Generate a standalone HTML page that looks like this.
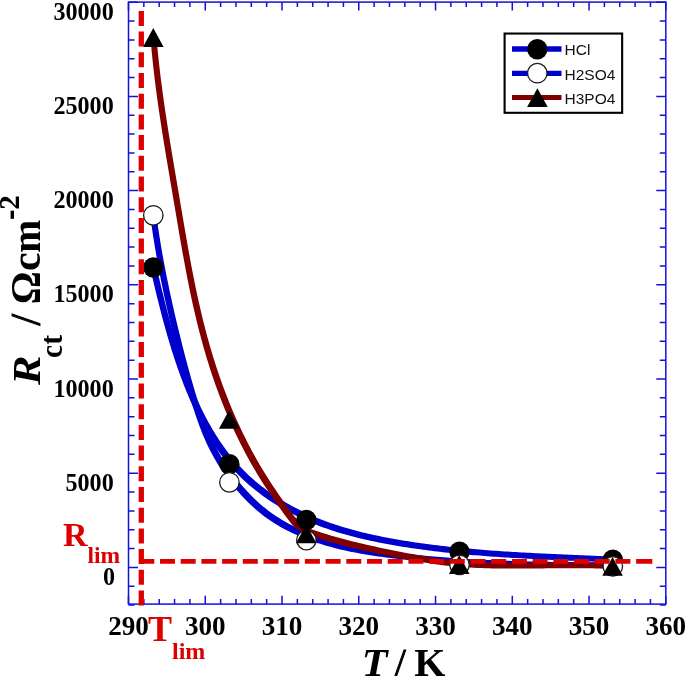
<!DOCTYPE html>
<html><head><meta charset="utf-8"><style>
html,body{margin:0;padding:0;background:#fff;}
body{width:685px;height:676px;position:relative;overflow:hidden;font-family:"Liberation Serif",serif;}
</style></head><body>
<svg width="685" height="676" viewBox="0 0 685 676" style="position:absolute;left:0;top:0;will-change:transform"><rect x="128.5" y="2.1" width="537.3" height="602.0" fill="none" stroke="#1212dd" stroke-width="1.5"/><path d="M128.50,604.1v-8.3M128.50,2.1v8.3M143.85,604.1v-5M143.85,2.1v5M159.20,604.1v-5M159.20,2.1v5M174.55,604.1v-5M174.55,2.1v5M189.91,604.1v-5M189.91,2.1v5M205.26,604.1v-8.3M205.26,2.1v8.3M220.61,604.1v-5M220.61,2.1v5M235.96,604.1v-5M235.96,2.1v5M251.31,604.1v-5M251.31,2.1v5M266.66,604.1v-5M266.66,2.1v5M282.01,604.1v-8.3M282.01,2.1v8.3M297.37,604.1v-5M297.37,2.1v5M312.72,604.1v-5M312.72,2.1v5M328.07,604.1v-5M328.07,2.1v5M343.42,604.1v-5M343.42,2.1v5M358.77,604.1v-8.3M358.77,2.1v8.3M374.12,604.1v-5M374.12,2.1v5M389.47,604.1v-5M389.47,2.1v5M404.83,604.1v-5M404.83,2.1v5M420.18,604.1v-5M420.18,2.1v5M435.53,604.1v-8.3M435.53,2.1v8.3M450.88,604.1v-5M450.88,2.1v5M466.23,604.1v-5M466.23,2.1v5M481.58,604.1v-5M481.58,2.1v5M496.93,604.1v-5M496.93,2.1v5M512.29,604.1v-8.3M512.29,2.1v8.3M527.64,604.1v-5M527.64,2.1v5M542.99,604.1v-5M542.99,2.1v5M558.34,604.1v-5M558.34,2.1v5M573.69,604.1v-5M573.69,2.1v5M589.04,604.1v-8.3M589.04,2.1v8.3M604.39,604.1v-5M604.39,2.1v5M619.75,604.1v-5M619.75,2.1v5M635.10,604.1v-5M635.10,2.1v5M650.45,604.1v-5M650.45,2.1v5M665.80,604.1v-8.3M665.80,2.1v8.3M128.5,605.08h6M665.8,605.08h-6M128.5,586.24h6M665.8,586.24h-6M128.5,567.40h9.5M665.8,567.40h-9.5M128.5,548.56h6M665.8,548.56h-6M128.5,529.72h6M665.8,529.72h-6M128.5,510.88h6M665.8,510.88h-6M128.5,492.04h6M665.8,492.04h-6M128.5,473.20h9.5M665.8,473.20h-9.5M128.5,454.36h6M665.8,454.36h-6M128.5,435.52h6M665.8,435.52h-6M128.5,416.68h6M665.8,416.68h-6M128.5,397.84h6M665.8,397.84h-6M128.5,379.00h9.5M665.8,379.00h-9.5M128.5,360.16h6M665.8,360.16h-6M128.5,341.32h6M665.8,341.32h-6M128.5,322.48h6M665.8,322.48h-6M128.5,303.64h6M665.8,303.64h-6M128.5,284.80h9.5M665.8,284.80h-9.5M128.5,265.96h6M665.8,265.96h-6M128.5,247.12h6M665.8,247.12h-6M128.5,228.28h6M665.8,228.28h-6M128.5,209.44h6M665.8,209.44h-6M128.5,190.60h9.5M665.8,190.60h-9.5M128.5,171.76h6M665.8,171.76h-6M128.5,152.92h6M665.8,152.92h-6M128.5,134.08h6M665.8,134.08h-6M128.5,115.24h6M665.8,115.24h-6M128.5,96.40h9.5M665.8,96.40h-9.5M128.5,77.56h6M665.8,77.56h-6M128.5,58.72h6M665.8,58.72h-6M128.5,39.88h6M665.8,39.88h-6M128.5,21.04h6M665.8,21.04h-6M128.5,2.20h9.5M665.8,2.20h-9.5" stroke="#1212dd" stroke-width="1.5" fill="none"/><path d="M151.93,266.21 L154.79,266.21 L155.43,268.94 L156.07,271.67 L156.71,274.39 L157.35,277.12 L158.00,279.84 L158.65,282.57 L159.30,285.29 L159.96,288.01 L160.62,290.74 L161.29,293.46 L161.96,296.18 L162.64,298.90 L163.32,301.62 L164.01,304.34 L164.71,307.05 L165.41,309.77 L166.13,312.48 L166.84,315.20 L167.57,317.91 L168.31,320.61 L169.05,323.32 L169.80,326.03 L170.57,328.73 L171.34,331.43 L172.12,334.13 L172.91,336.83 L173.72,339.52 L174.53,342.22 L175.36,344.91 L176.20,347.59 L177.05,350.28 L177.91,352.96 L178.79,355.64 L179.68,358.32 L180.58,360.99 L181.50,363.66 L182.43,366.33 L183.38,368.99 L184.34,371.65 L185.32,374.31 L186.31,376.97 L187.33,379.62 L188.35,382.26 L189.40,384.90 L190.46,387.53 L191.54,390.16 L192.64,392.78 L193.75,395.39 L194.89,397.99 L196.05,400.58 L197.22,403.16 L198.42,405.74 L199.64,408.29 L200.87,410.84 L202.13,413.38 L203.42,415.90 L204.72,418.40 L206.05,420.90 L207.40,423.37 L208.77,425.83 L210.17,428.28 L211.60,430.70 L213.04,433.11 L214.52,435.50 L216.02,437.87 L217.54,440.22 L219.09,442.55 L220.67,444.85 L222.28,447.14 L223.91,449.40 L225.57,451.64 L227.26,453.85 L228.98,456.04 L230.73,458.21 L232.51,460.35 L234.32,462.46 L236.16,464.54 L238.03,466.60 L239.93,468.63 L241.87,470.63 L243.83,472.60 L245.83,474.54 L247.85,476.45 L249.91,478.33 L251.99,480.18 L254.10,482.00 L256.24,483.80 L258.41,485.56 L260.60,487.30 L262.81,489.01 L265.06,490.68 L267.32,492.33 L269.61,493.95 L271.92,495.55 L274.25,497.11 L276.61,498.64 L278.99,500.15 L281.38,501.63 L283.80,503.08 L286.23,504.50 L288.69,505.89 L291.16,507.25 L293.64,508.59 L296.15,509.89 L298.67,511.17 L301.20,512.42 L303.75,513.65 L306.31,514.84 L308.89,516.01 L311.48,517.14 L314.08,518.25 L316.69,519.34 L319.31,520.39 L321.94,521.42 L324.58,522.41 L327.23,523.39 L329.89,524.33 L332.56,525.25 L335.23,526.15 L337.92,527.02 L340.61,527.87 L343.31,528.69 L346.02,529.50 L348.73,530.28 L351.45,531.04 L354.18,531.77 L356.91,532.49 L359.65,533.19 L362.39,533.87 L365.14,534.53 L367.89,535.17 L370.65,535.79 L373.41,536.40 L376.17,536.99 L378.94,537.56 L381.71,538.12 L384.49,538.67 L387.26,539.20 L390.04,539.71 L392.82,540.22 L395.60,540.71 L398.39,541.19 L401.17,541.66 L403.95,542.12 L406.74,542.56 L409.52,543.00 L412.31,543.43 L415.09,543.84 L417.88,544.25 L420.67,544.65 L423.46,545.03 L426.24,545.41 L429.03,545.78 L431.82,546.14 L434.61,546.49 L437.40,546.83 L440.19,547.17 L442.99,547.49 L445.78,547.81 L448.57,548.12 L451.36,548.42 L454.16,548.71 L456.95,549.00 L459.75,549.28 L462.54,549.55 L465.34,549.82 L468.13,550.07 L470.93,550.32 L473.73,550.57 L476.52,550.81 L479.32,551.04 L482.12,551.26 L484.92,551.48 L487.72,551.70 L490.52,551.91 L493.32,552.11 L496.12,552.31 L498.93,552.50 L501.73,552.69 L504.53,552.87 L507.33,553.05 L510.14,553.23 L512.94,553.40 L515.75,553.56 L518.55,553.72 L521.36,553.88 L524.17,554.04 L526.97,554.19 L529.78,554.34 L532.59,554.48 L535.40,554.63 L538.21,554.77 L541.02,554.90 L543.83,555.04 L546.64,555.17 L549.45,555.30 L552.26,555.43 L555.08,555.56 L557.89,555.68 L560.70,555.81 L563.52,555.93 L566.33,556.05 L569.15,556.17 L571.96,556.30 L574.78,556.42 L577.60,556.53 L580.41,556.65 L583.23,556.77 L586.05,556.89 L588.87,557.01 L591.69,557.13 L594.51,557.25 L597.33,557.37 L600.15,557.50 L602.97,557.62 L605.79,557.74 L608.62,557.87 L611.44,558.00 L614.26,558.13 L614.26,560.99 L611.40,560.99 L608.58,560.86 L605.76,560.73 L602.93,560.60 L600.11,560.48 L597.29,560.36 L594.47,560.23 L591.65,560.11 L588.83,559.99 L586.01,559.87 L583.19,559.75 L580.37,559.63 L577.55,559.51 L574.74,559.39 L571.92,559.28 L569.10,559.16 L566.29,559.03 L563.47,558.91 L560.66,558.79 L557.84,558.67 L555.03,558.54 L552.22,558.42 L549.40,558.29 L546.59,558.16 L543.78,558.03 L540.97,557.90 L538.16,557.76 L535.35,557.63 L532.54,557.49 L529.73,557.34 L526.92,557.20 L524.11,557.05 L521.31,556.90 L518.50,556.74 L515.69,556.58 L512.89,556.42 L510.08,556.26 L507.28,556.09 L504.47,555.91 L501.67,555.73 L498.87,555.55 L496.07,555.36 L493.26,555.17 L490.46,554.97 L487.66,554.77 L484.86,554.56 L482.06,554.34 L479.26,554.12 L476.46,553.90 L473.66,553.67 L470.87,553.43 L468.07,553.18 L465.27,552.93 L462.48,552.68 L459.68,552.41 L456.89,552.14 L454.09,551.86 L451.30,551.57 L448.50,551.28 L445.71,550.98 L442.92,550.67 L440.13,550.35 L437.33,550.03 L434.54,549.69 L431.75,549.35 L428.96,549.00 L426.17,548.64 L423.38,548.27 L420.60,547.89 L417.81,547.51 L415.02,547.11 L412.23,546.70 L409.45,546.29 L406.66,545.86 L403.88,545.42 L401.09,544.98 L398.31,544.52 L395.53,544.05 L392.74,543.57 L389.96,543.08 L387.18,542.57 L384.40,542.06 L381.63,541.53 L378.85,540.98 L376.08,540.42 L373.31,539.85 L370.55,539.26 L367.79,538.65 L365.03,538.03 L362.28,537.39 L359.53,536.73 L356.79,536.05 L354.05,535.35 L351.32,534.63 L348.59,533.90 L345.87,533.14 L343.16,532.36 L340.45,531.55 L337.75,530.73 L335.06,529.88 L332.37,529.01 L329.70,528.11 L327.03,527.19 L324.37,526.25 L321.72,525.27 L319.08,524.28 L316.45,523.25 L313.83,522.20 L311.22,521.11 L308.62,520.00 L306.03,518.87 L303.45,517.70 L300.89,516.51 L298.34,515.28 L295.81,514.03 L293.29,512.75 L290.78,511.45 L288.30,510.11 L285.83,508.75 L283.37,507.36 L280.94,505.94 L278.52,504.49 L276.13,503.01 L273.75,501.50 L271.39,499.97 L269.06,498.41 L266.75,496.81 L264.46,495.19 L262.20,493.54 L259.95,491.87 L257.74,490.16 L255.55,488.42 L253.38,486.66 L251.24,484.86 L249.13,483.04 L247.05,481.19 L244.99,479.31 L242.97,477.40 L240.97,475.46 L239.01,473.49 L237.07,471.49 L235.17,469.46 L233.30,467.40 L231.46,465.32 L229.65,463.21 L227.87,461.07 L226.12,458.90 L224.40,456.71 L222.71,454.50 L221.05,452.26 L219.42,450.00 L217.81,447.71 L216.23,445.41 L214.68,443.08 L213.16,440.73 L211.66,438.36 L210.18,435.97 L208.74,433.56 L207.31,431.14 L205.91,428.69 L204.54,426.23 L203.19,423.76 L201.86,421.26 L200.56,418.76 L199.27,416.24 L198.01,413.70 L196.78,411.15 L195.56,408.60 L194.36,406.02 L193.19,403.44 L192.03,400.85 L190.89,398.25 L189.78,395.64 L188.68,393.02 L187.60,390.39 L186.54,387.76 L185.49,385.12 L184.47,382.48 L183.45,379.83 L182.46,377.17 L181.48,374.51 L180.52,371.85 L179.57,369.19 L178.64,366.52 L177.72,363.85 L176.82,361.18 L175.93,358.50 L175.05,355.82 L174.19,353.14 L173.34,350.45 L172.50,347.77 L171.67,345.08 L170.86,342.38 L170.05,339.69 L169.26,336.99 L168.48,334.29 L167.71,331.59 L166.94,328.89 L166.19,326.18 L165.45,323.47 L164.71,320.77 L163.98,318.06 L163.27,315.34 L162.55,312.63 L161.85,309.91 L161.15,307.20 L160.46,304.48 L159.78,301.76 L159.10,299.04 L158.43,296.32 L157.76,293.60 L157.10,290.87 L156.44,288.15 L155.79,285.43 L155.14,282.70 L154.49,279.98 L153.85,277.25 L153.21,274.53 L152.57,271.80 L151.93,269.07Z" fill="#0000cc" stroke="#0000cc" stroke-width="2.95" stroke-linejoin="round"/><path d="M151.85,213.82 L154.71,213.82 L155.12,216.91 L155.55,220.01 L155.98,223.10 L156.43,226.18 L156.88,229.27 L157.35,232.35 L157.83,235.43 L158.31,238.50 L158.81,241.58 L159.32,244.65 L159.84,247.72 L160.36,250.78 L160.90,253.85 L161.45,256.91 L162.00,259.97 L162.56,263.03 L163.14,266.08 L163.72,269.14 L164.31,272.19 L164.91,275.24 L165.52,278.29 L166.13,281.33 L166.76,284.38 L167.39,287.42 L168.03,290.46 L168.68,293.50 L169.34,296.54 L170.00,299.58 L170.67,302.61 L171.35,305.65 L172.03,308.68 L172.72,311.71 L173.42,314.74 L174.13,317.77 L174.84,320.80 L175.56,323.83 L176.28,326.85 L177.01,329.88 L177.75,332.90 L178.49,335.93 L179.24,338.95 L179.99,341.97 L180.75,344.99 L181.52,348.02 L182.29,351.04 L183.06,354.05 L183.85,357.07 L184.64,360.09 L185.44,363.10 L186.24,366.11 L187.06,369.12 L187.88,372.13 L188.71,375.13 L189.55,378.13 L190.40,381.13 L191.27,384.13 L192.14,387.12 L193.02,390.10 L193.91,393.08 L194.82,396.06 L195.74,399.03 L196.67,402.00 L197.61,404.96 L198.57,407.91 L199.54,410.86 L200.54,413.80 L201.55,416.73 L202.59,419.65 L203.65,422.56 L204.75,425.46 L205.88,428.34 L207.04,431.20 L208.24,434.05 L209.47,436.89 L210.75,439.70 L212.07,442.50 L213.43,445.27 L214.83,448.03 L216.28,450.77 L217.77,453.49 L219.31,456.18 L220.89,458.86 L222.51,461.51 L224.18,464.14 L225.90,466.74 L227.65,469.32 L229.45,471.88 L231.28,474.41 L233.16,476.91 L235.07,479.39 L237.02,481.83 L239.01,484.25 L241.03,486.64 L243.09,489.00 L245.19,491.33 L247.32,493.62 L249.48,495.88 L251.69,498.10 L253.93,500.27 L256.20,502.41 L258.51,504.49 L260.86,506.53 L263.25,508.52 L265.68,510.45 L268.14,512.33 L270.64,514.16 L273.18,515.93 L275.75,517.65 L278.35,519.31 L280.99,520.93 L283.66,522.49 L286.36,524.00 L289.08,525.47 L291.83,526.89 L294.61,528.26 L297.41,529.58 L300.23,530.86 L303.07,532.10 L305.94,533.29 L308.82,534.44 L311.72,535.55 L314.63,536.62 L317.56,537.66 L320.50,538.65 L323.46,539.60 L326.42,540.52 L329.40,541.41 L332.39,542.26 L335.38,543.08 L338.39,543.86 L341.41,544.62 L344.44,545.34 L347.47,546.04 L350.51,546.71 L353.56,547.35 L356.62,547.96 L359.68,548.56 L362.75,549.12 L365.83,549.67 L368.91,550.19 L371.99,550.70 L375.08,551.18 L378.17,551.65 L381.27,552.10 L384.37,552.53 L387.47,552.95 L390.57,553.35 L393.67,553.74 L396.77,554.12 L399.88,554.49 L402.98,554.85 L406.09,555.20 L409.19,555.54 L412.29,555.87 L415.39,556.19 L418.50,556.50 L421.60,556.81 L424.70,557.11 L427.80,557.39 L430.90,557.67 L434.00,557.94 L437.10,558.21 L440.20,558.46 L443.30,558.71 L446.40,558.95 L449.50,559.18 L452.60,559.41 L455.70,559.62 L458.80,559.83 L461.90,560.04 L465.00,560.23 L468.10,560.42 L471.20,560.60 L474.30,560.78 L477.40,560.95 L480.50,561.11 L483.60,561.27 L486.70,561.42 L489.80,561.56 L492.90,561.70 L496.00,561.83 L499.10,561.96 L502.20,562.08 L505.30,562.20 L508.40,562.31 L511.51,562.41 L514.61,562.51 L517.71,562.61 L520.82,562.70 L523.92,562.78 L527.03,562.86 L530.13,562.94 L533.24,563.01 L536.34,563.08 L539.45,563.14 L542.56,563.20 L545.67,563.25 L548.78,563.30 L551.88,563.35 L555.00,563.40 L558.11,563.44 L561.22,563.47 L564.33,563.51 L567.44,563.54 L570.56,563.56 L573.67,563.59 L576.79,563.61 L579.91,563.63 L583.03,563.64 L586.14,563.66 L589.26,563.67 L592.39,563.68 L595.51,563.69 L598.63,563.69 L601.75,563.70 L604.88,563.70 L608.01,563.70 L611.13,563.69 L614.26,563.69 L614.26,566.55 L611.40,566.55 L608.27,566.55 L605.15,566.56 L602.02,566.56 L598.89,566.56 L595.77,566.55 L592.65,566.55 L589.53,566.54 L586.40,566.53 L583.28,566.52 L580.17,566.50 L577.05,566.49 L573.93,566.47 L570.81,566.45 L567.70,566.42 L564.58,566.40 L561.47,566.37 L558.36,566.33 L555.25,566.30 L552.14,566.26 L549.02,566.21 L545.92,566.16 L542.81,566.11 L539.70,566.06 L536.59,566.00 L533.48,565.94 L530.38,565.87 L527.27,565.80 L524.17,565.72 L521.06,565.64 L517.96,565.56 L514.85,565.47 L511.75,565.37 L508.65,565.27 L505.54,565.17 L502.44,565.06 L499.34,564.94 L496.24,564.82 L493.14,564.69 L490.04,564.56 L486.94,564.42 L483.84,564.28 L480.74,564.13 L477.64,563.97 L474.54,563.81 L471.44,563.64 L468.34,563.46 L465.24,563.28 L462.14,563.09 L459.04,562.90 L455.94,562.69 L452.84,562.48 L449.74,562.27 L446.64,562.04 L443.54,561.81 L440.44,561.57 L437.34,561.32 L434.24,561.07 L431.14,560.80 L428.04,560.53 L424.94,560.25 L421.84,559.97 L418.74,559.67 L415.64,559.36 L412.53,559.05 L409.43,558.73 L406.33,558.40 L403.23,558.06 L400.12,557.71 L397.02,557.35 L393.91,556.98 L390.81,556.60 L387.71,556.21 L384.61,555.81 L381.51,555.39 L378.41,554.96 L375.31,554.51 L372.22,554.04 L369.13,553.56 L366.05,553.05 L362.97,552.53 L359.89,551.98 L356.82,551.42 L353.76,550.82 L350.70,550.21 L347.65,549.57 L344.61,548.90 L341.58,548.20 L338.55,547.48 L335.53,546.72 L332.52,545.94 L329.53,545.12 L326.54,544.27 L323.56,543.38 L320.60,542.46 L317.64,541.51 L314.70,540.52 L311.77,539.48 L308.86,538.41 L305.96,537.30 L303.08,536.15 L300.21,534.96 L297.37,533.72 L294.55,532.44 L291.75,531.12 L288.97,529.75 L286.22,528.33 L283.50,526.86 L280.80,525.35 L278.13,523.79 L275.49,522.17 L272.89,520.51 L270.32,518.79 L267.78,517.02 L265.28,515.19 L262.82,513.31 L260.39,511.38 L258.00,509.39 L255.65,507.35 L253.34,505.27 L251.07,503.13 L248.83,500.96 L246.62,498.74 L244.46,496.48 L242.33,494.19 L240.23,491.86 L238.17,489.50 L236.15,487.11 L234.16,484.69 L232.21,482.25 L230.30,479.77 L228.42,477.27 L226.59,474.74 L224.79,472.18 L223.04,469.60 L221.32,467.00 L219.65,464.37 L218.03,461.72 L216.45,459.04 L214.91,456.35 L213.42,453.63 L211.97,450.89 L210.57,448.13 L209.21,445.36 L207.89,442.56 L206.61,439.75 L205.38,436.91 L204.18,434.06 L203.02,431.20 L201.89,428.32 L200.79,425.42 L199.73,422.51 L198.69,419.59 L197.68,416.66 L196.68,413.72 L195.71,410.77 L194.75,407.82 L193.81,404.86 L192.88,401.89 L191.96,398.92 L191.05,395.94 L190.16,392.96 L189.28,389.98 L188.41,386.99 L187.54,383.99 L186.69,380.99 L185.85,377.99 L185.02,374.99 L184.20,371.98 L183.38,368.97 L182.58,365.96 L181.78,362.95 L180.99,359.93 L180.20,356.91 L179.43,353.90 L178.66,350.88 L177.89,347.85 L177.13,344.83 L176.38,341.81 L175.63,338.79 L174.89,335.76 L174.15,332.74 L173.42,329.71 L172.70,326.69 L171.98,323.66 L171.27,320.63 L170.56,317.60 L169.86,314.57 L169.17,311.54 L168.49,308.51 L167.81,305.47 L167.14,302.44 L166.48,299.40 L165.82,296.36 L165.17,293.32 L164.53,290.28 L163.90,287.24 L163.27,284.19 L162.66,281.15 L162.05,278.10 L161.45,275.05 L160.86,272.00 L160.28,268.94 L159.70,265.89 L159.14,262.83 L158.59,259.77 L158.04,256.71 L157.50,253.64 L156.98,250.58 L156.46,247.51 L155.95,244.44 L155.45,241.36 L154.97,238.29 L154.49,235.21 L154.02,232.13 L153.57,229.04 L153.12,225.96 L152.69,222.87 L152.26,219.77 L151.85,216.68Z" fill="#0000cc" stroke="#0000cc" stroke-width="2.95" stroke-linejoin="round"/><path d="M152.05,36.01 L154.91,36.01 L155.23,39.84 L155.56,43.66 L155.92,47.49 L156.28,51.30 L156.67,55.11 L157.06,58.92 L157.48,62.73 L157.90,66.53 L158.34,70.33 L158.79,74.13 L159.25,77.93 L159.73,81.72 L160.22,85.51 L160.72,89.30 L161.22,93.08 L161.74,96.86 L162.27,100.64 L162.81,104.42 L163.36,108.20 L163.91,111.97 L164.48,115.75 L165.05,119.52 L165.63,123.29 L166.22,127.06 L166.81,130.83 L167.41,134.59 L168.02,138.36 L168.63,142.13 L169.24,145.89 L169.86,149.66 L170.48,153.42 L171.11,157.18 L171.74,160.95 L172.38,164.71 L173.01,168.48 L173.65,172.24 L174.29,176.00 L174.93,179.77 L175.57,183.53 L176.21,187.30 L176.85,191.07 L177.49,194.84 L178.13,198.61 L178.77,202.38 L179.41,206.15 L180.05,209.92 L180.68,213.69 L181.32,217.46 L181.96,221.24 L182.61,225.01 L183.25,228.79 L183.90,232.56 L184.56,236.33 L185.21,240.10 L185.88,243.87 L186.55,247.64 L187.22,251.41 L187.91,255.18 L188.60,258.94 L189.30,262.71 L190.00,266.47 L190.72,270.23 L191.45,273.99 L192.19,277.74 L192.94,281.49 L193.70,285.24 L194.47,288.99 L195.26,292.73 L196.06,296.47 L196.88,300.20 L197.71,303.94 L198.56,307.66 L199.42,311.39 L200.30,315.10 L201.20,318.82 L202.11,322.53 L203.04,326.23 L204.00,329.93 L204.97,333.62 L205.96,337.31 L206.98,340.99 L208.01,344.67 L209.07,348.34 L210.15,352.00 L211.25,355.66 L212.37,359.31 L213.52,362.95 L214.69,366.58 L215.88,370.21 L217.09,373.83 L218.33,377.44 L219.59,381.04 L220.88,384.63 L222.19,388.21 L223.53,391.79 L224.89,395.35 L226.28,398.91 L227.69,402.45 L229.12,405.98 L230.59,409.51 L232.07,413.02 L233.59,416.52 L235.13,420.01 L236.70,423.48 L238.29,426.95 L239.92,430.40 L241.57,433.84 L243.24,437.27 L244.95,440.68 L246.68,444.08 L248.45,447.47 L250.24,450.84 L252.06,454.20 L253.91,457.54 L255.79,460.87 L257.69,464.18 L259.63,467.48 L261.60,470.77 L263.60,474.03 L265.63,477.28 L267.69,480.52 L269.77,483.74 L271.88,486.94 L274.01,490.13 L276.16,493.30 L278.33,496.46 L280.51,499.60 L282.71,502.73 L284.92,505.84 L287.13,508.94 L289.36,512.02 L291.59,515.08 L293.87,518.07 L296.28,520.91 L298.91,523.49 L301.79,525.77 L304.91,527.75 L308.24,529.46 L311.75,530.92 L315.38,532.22 L319.07,533.43 L322.76,534.60 L326.46,535.74 L330.16,536.84 L333.87,537.91 L337.57,538.95 L341.29,539.96 L345.00,540.94 L348.71,541.91 L352.42,542.85 L356.14,543.76 L359.85,544.66 L363.57,545.53 L367.28,546.39 L371.00,547.23 L374.72,548.05 L378.44,548.86 L382.17,549.65 L385.90,550.43 L389.63,551.20 L393.37,551.95 L397.11,552.69 L400.85,553.43 L404.60,554.15 L408.35,554.87 L412.11,555.57 L415.87,556.25 L419.64,556.92 L423.41,557.56 L427.18,558.19 L430.96,558.79 L434.74,559.36 L438.52,559.90 L442.31,560.40 L446.10,560.88 L449.89,561.31 L453.69,561.71 L457.49,562.07 L461.29,562.40 L465.10,562.70 L468.90,562.96 L472.71,563.20 L476.52,563.41 L480.34,563.59 L484.15,563.75 L487.97,563.88 L491.79,563.99 L495.61,564.08 L499.43,564.15 L503.25,564.21 L507.08,564.25 L510.90,564.27 L514.73,564.28 L518.56,564.28 L522.38,564.27 L526.21,564.25 L530.04,564.22 L533.87,564.19 L537.70,564.15 L541.53,564.11 L545.35,564.07 L549.18,564.02 L553.01,563.98 L556.84,563.94 L560.67,563.91 L564.49,563.88 L568.32,563.86 L572.14,563.85 L575.96,563.85 L579.79,563.86 L583.61,563.88 L587.43,563.92 L591.24,563.97 L595.06,564.04 L598.87,564.13 L602.69,564.25 L606.50,564.38 L610.30,564.54 L614.11,564.72 L614.11,567.58 L611.25,567.58 L607.44,567.40 L603.64,567.24 L599.83,567.11 L596.01,566.99 L592.20,566.90 L588.38,566.83 L584.57,566.78 L580.75,566.74 L576.93,566.72 L573.10,566.71 L569.28,566.71 L565.46,566.72 L561.63,566.74 L557.81,566.77 L553.98,566.80 L550.15,566.84 L546.32,566.88 L542.49,566.93 L538.67,566.97 L534.84,567.01 L531.01,567.05 L527.18,567.08 L523.35,567.11 L519.52,567.13 L515.70,567.14 L511.87,567.14 L508.04,567.13 L504.22,567.11 L500.39,567.07 L496.57,567.01 L492.75,566.94 L488.93,566.85 L485.11,566.74 L481.29,566.61 L477.48,566.45 L473.66,566.27 L469.85,566.06 L466.04,565.82 L462.24,565.56 L458.43,565.26 L454.63,564.93 L450.83,564.57 L447.03,564.17 L443.24,563.74 L439.45,563.26 L435.66,562.76 L431.88,562.22 L428.10,561.65 L424.32,561.05 L420.55,560.42 L416.78,559.78 L413.01,559.11 L409.25,558.43 L405.49,557.73 L401.74,557.01 L397.99,556.29 L394.25,555.55 L390.51,554.81 L386.77,554.06 L383.04,553.29 L379.31,552.51 L375.58,551.72 L371.86,550.91 L368.14,550.09 L364.42,549.25 L360.71,548.39 L356.99,547.52 L353.28,546.62 L349.56,545.71 L345.85,544.77 L342.14,543.80 L338.43,542.82 L334.71,541.81 L331.01,540.77 L327.30,539.70 L323.60,538.60 L319.90,537.46 L316.21,536.29 L312.52,535.08 L308.89,533.78 L305.38,532.32 L302.05,530.61 L298.93,528.63 L296.05,526.35 L293.42,523.77 L291.01,520.93 L288.73,517.94 L286.50,514.88 L284.27,511.80 L282.06,508.70 L279.85,505.59 L277.65,502.46 L275.47,499.32 L273.30,496.16 L271.15,492.99 L269.02,489.80 L266.91,486.60 L264.83,483.38 L262.77,480.14 L260.74,476.89 L258.74,473.63 L256.77,470.34 L254.83,467.04 L252.93,463.73 L251.05,460.40 L249.20,457.06 L247.38,453.70 L245.59,450.33 L243.82,446.94 L242.09,443.54 L240.38,440.13 L238.71,436.70 L237.06,433.26 L235.43,429.81 L233.84,426.34 L232.27,422.87 L230.73,419.38 L229.21,415.88 L227.73,412.37 L226.26,408.84 L224.83,405.31 L223.42,401.77 L222.03,398.21 L220.67,394.65 L219.33,391.07 L218.02,387.49 L216.73,383.90 L215.47,380.30 L214.23,376.69 L213.02,373.07 L211.83,369.44 L210.66,365.81 L209.51,362.17 L208.39,358.52 L207.29,354.86 L206.21,351.20 L205.15,347.53 L204.12,343.85 L203.10,340.17 L202.11,336.48 L201.14,332.79 L200.18,329.09 L199.25,325.39 L198.34,321.68 L197.44,317.96 L196.56,314.25 L195.70,310.52 L194.85,306.80 L194.02,303.06 L193.20,299.33 L192.40,295.59 L191.61,291.85 L190.84,288.10 L190.08,284.35 L189.33,280.60 L188.59,276.85 L187.86,273.09 L187.14,269.33 L186.44,265.57 L185.74,261.80 L185.05,258.04 L184.36,254.27 L183.69,250.50 L183.02,246.73 L182.35,242.96 L181.70,239.19 L181.04,235.42 L180.39,231.65 L179.75,227.87 L179.10,224.10 L178.46,220.32 L177.82,216.55 L177.19,212.78 L176.55,209.01 L175.91,205.24 L175.27,201.47 L174.63,197.70 L173.99,193.93 L173.35,190.16 L172.71,186.39 L172.07,182.63 L171.43,178.86 L170.79,175.10 L170.15,171.34 L169.52,167.57 L168.88,163.81 L168.25,160.04 L167.62,156.28 L167.00,152.52 L166.38,148.75 L165.77,144.99 L165.16,141.22 L164.55,137.45 L163.95,133.69 L163.36,129.92 L162.77,126.15 L162.19,122.38 L161.62,118.61 L161.05,114.83 L160.50,111.06 L159.95,107.28 L159.41,103.50 L158.88,99.72 L158.36,95.94 L157.86,92.16 L157.36,88.37 L156.87,84.58 L156.39,80.79 L155.93,76.99 L155.48,73.19 L155.04,69.39 L154.62,65.59 L154.20,61.78 L153.81,57.97 L153.42,54.16 L153.06,50.35 L152.70,46.52 L152.37,42.70 L152.05,38.87Z" fill="#800000" stroke="#800000" stroke-width="2.95" stroke-linejoin="round"/><circle cx="153.3" cy="267.5" r="10.2" fill="#000"/><circle cx="229.4" cy="464.2" r="10.2" fill="#000"/><circle cx="306.4" cy="520" r="10.2" fill="#000"/><circle cx="459.5" cy="551.7" r="10.2" fill="#000"/><circle cx="612.8" cy="559.6" r="10.2" fill="#000"/><circle cx="153.3" cy="215.3" r="9.75" fill="#fff" stroke="#1a1a1a" stroke-width="1.3"/><circle cx="229.4" cy="482.3" r="9.75" fill="#fff" stroke="#1a1a1a" stroke-width="1.3"/><circle cx="306.4" cy="540.1" r="9.75" fill="#fff" stroke="#1a1a1a" stroke-width="1.3"/><circle cx="459.5" cy="564.8" r="9.75" fill="#fff" stroke="#1a1a1a" stroke-width="1.3"/><circle cx="612.8" cy="566.3" r="9.75" fill="#fff" stroke="#1a1a1a" stroke-width="1.3"/><polygon points="153.30,28.10 163.60,46.90 143.00,46.90" fill="#000"/><polygon points="229.25,410.00 239.55,428.80 218.95,428.80" fill="#000"/><polygon points="306.20,524.40 316.50,543.20 295.90,543.20" fill="#000"/><polygon points="459.25,555.10 469.55,573.90 448.95,573.90" fill="#000"/><polygon points="612.55,556.90 622.85,575.70 602.25,575.70" fill="#000"/><path d="M141.3,10.9V606" stroke="#dd0000" stroke-width="5.3" stroke-dasharray="15 5.7" fill="none"/><path d="M139.3,561.4H651.1" stroke="#dd0000" stroke-width="4.9" stroke-dasharray="15 5.7" fill="none"/><rect x="651" y="558.95" width="1.3" height="4.9" fill="#dd0000"/><rect x="504.6" y="33.55" width="117.55" height="79.25" fill="#fff" stroke="#000" stroke-width="2.1"/><path d="M512,49H561.5M512,73.4H561.5" stroke="#0000cc" stroke-width="5.4"/><path d="M512,97.5H561.5" stroke="#800000" stroke-width="5.2"/><circle cx="537.3" cy="49.3" r="10.2" fill="#000"/><circle cx="537.3" cy="73.2" r="9.75" fill="#fff" stroke="#1a1a1a" stroke-width="1.3"/><polygon points="537.40,88.30 547.70,107.10 527.10,107.10" fill="#000"/><g font-family="Liberation Sans, sans-serif" font-size="15.5" fill="#111"><text x="564.5" y="55.3">HCl</text><text x="564.5" y="79.7">H2SO4</text><text x="564.5" y="103.8">H3PO4</text></g><g font-family="Liberation Serif, serif" font-weight="bold" font-size="25" text-anchor="end" fill="#000"><text transform="translate(115.1,585.00) scale(0.965,1)">0</text><text transform="translate(113.7,491.10) scale(0.965,1)">5000</text><text transform="translate(113.7,396.90) scale(0.965,1)">10000</text><text transform="translate(113.7,302.20) scale(0.965,1)">15000</text><text transform="translate(113.7,208.00) scale(0.965,1)">20000</text><text transform="translate(113.7,113.50) scale(0.965,1)">25000</text><text transform="translate(113.7,19.90) scale(0.965,1)">30000</text></g><g font-family="Liberation Serif, serif" font-weight="bold" font-size="28" text-anchor="middle" fill="#000"><text transform="translate(128.50,635.0) scale(0.97,1)">290</text><text transform="translate(205.26,635.0) scale(0.97,1)">300</text><text transform="translate(282.01,635.0) scale(0.97,1)">310</text><text transform="translate(358.77,635.0) scale(0.97,1)">320</text><text transform="translate(435.53,635.0) scale(0.97,1)">330</text><text transform="translate(512.29,635.0) scale(0.97,1)">340</text><text transform="translate(589.04,635.0) scale(0.97,1)">350</text><text transform="translate(665.80,635.0) scale(0.97,1)">360</text></g><g font-family="Liberation Serif, serif" font-weight="bold" fill="#dd0000"><text x="63" y="545.7" font-size="34">R<tspan font-size="23.5" dy="17.3">lim</tspan></text><text x="148" y="640.9" font-size="36">T<tspan font-size="24" dy="17.8">lim</tspan></text></g><g fill="#000"><text transform="translate(361.85,675.65) scale(1.0300,1)" font-family="Liberation Serif" font-size="41" font-weight="bold" font-style="italic">T</text>
<text transform="translate(394.75,675.60) scale(1.0000,1)" font-family="Liberation Serif" font-size="40" stroke="#000" stroke-width="0.9">/</text>
<text transform="translate(414.20,675.65) scale(1.0000,1)" font-family="Liberation Serif" font-size="40" font-weight="bold">K</text></g><g fill="#000"><text transform="translate(39.70,385.05) rotate(-90) scale(1.0800,1)" font-family="Liberation Serif" font-size="41" font-weight="bold" font-style="italic">R</text>
<text transform="translate(61.80,357.90) rotate(-90) scale(0.9500,1)" font-family="Liberation Serif" font-size="31" font-weight="bold">ct</text>
<text transform="translate(40.35,325.60) rotate(-90) scale(1.0000,1)" font-family="Liberation Serif" font-size="42" stroke="#000" stroke-width="0.9">/</text>
<text transform="translate(40.05,304.25) rotate(-90) scale(0.9800,1)" font-family="Liberation Serif" font-size="42" font-weight="bold">&#937;</text>
<text transform="translate(39.75,271.00) rotate(-90) scale(1.0000,1)" font-family="Liberation Serif" font-size="42" font-weight="bold">c</text>
<text transform="translate(39.75,252.65) rotate(-90) scale(0.9400,1)" font-family="Liberation Serif" font-size="42" font-weight="bold">m</text>
<text transform="translate(18.70,209.80) rotate(-90) scale(1.0000,1)" font-family="Liberation Serif" font-size="29" font-weight="bold">2</text>
<rect x="10.6" y="210.7" width="3.4" height="8.1" fill="#000"/></g></svg>
</body></html>
